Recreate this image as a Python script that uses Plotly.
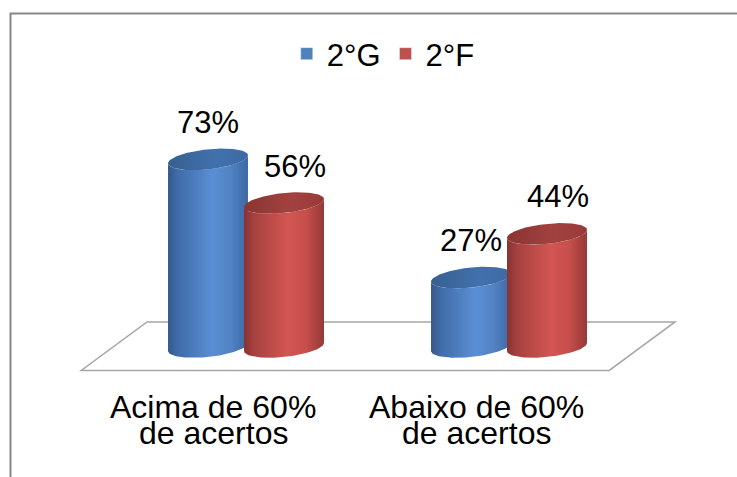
import numpy as np
import plotly.graph_objects as go

# ---- data ----
categories = ["Acima de 60%\nde acertos", "Abaixo de 60%\nde acertos"]
series_names = ["2°G", "2°F"]
values_2G = [73, 27]
values_2F = [56, 44]
series_values = [values_2G, values_2F]

# ---- styling ----
FONT = "Liberation Sans, Arial, sans-serif"
base_colors = ["#4f81bd", "#c0504d"]
body_scales = [
    [[0, "#35598a"], [0.12, "#406ca8"], [0.55, "#5a8ed4"], [0.78, "#5283c4"], [1, "#3d68a2"]],
    [[0, "#873230"], [0.12, "#a5413f"], [0.55, "#d35653"], [0.78, "#c64e4b"], [1, "#953937"]],
]
cap_scales = [
    [[0, "#37608f"], [0.6, "#4171ad"], [1, "#3e6aa3"]],
    [[0, "#8a3533"], [0.6, "#a24240"], [1, "#963a38"]],
]
label_xshift = [0, 11]

# geometry of the cylinders (axis units)
half_w = 0.152          # half width of a cylinder along x
offsets = [-0.1445, 0.1445]
ell_b = 3.9             # vertical half axis of the elliptical ends (y units)
ell_s = 1.56            # tilt of the ellipse (y units)
depth_dx = -0.125       # x shift from mid-depth to the floor's front edge

x_range = [-0.9354, 1.8669]
y_range = [-50.6, 135.0]


def ellipse(cx, cy, t):
    return cx + half_w * np.cos(t), cy + ell_s * np.cos(t) - ell_b * np.sin(t)


fig = go.Figure()

for si, (name, vals) in enumerate(zip(series_names, series_values)):
    for gi, v in enumerate(vals):
        cx = gi + offsets[si]
        # body: left side up, front arc of the top, right side down, front arc of the base
        t_top = np.linspace(np.pi, 0, 60)
        t_bot = np.linspace(0, np.pi, 60)
        tx, ty = ellipse(cx, v, t_top)
        bx, by = ellipse(cx, 0, t_bot)
        xs = np.concatenate([tx, bx, tx[:1]])
        ys = np.concatenate([ty, by, ty[:1]])
        fig.add_trace(go.Scatter(
            x=xs, y=ys, mode="lines", line=dict(width=0),
            fill="toself", fillcolor=base_colors[si],
            fillgradient=dict(type="horizontal", colorscale=body_scales[si]),
            hoverinfo="skip", showlegend=False,
        ))
        # top cap
        t_cap = np.linspace(0, 2 * np.pi, 120)
        cxs, cys = ellipse(cx, v, t_cap)
        fig.add_trace(go.Scatter(
            x=cxs, y=cys, mode="lines", line=dict(width=0),
            fill="toself", fillcolor=base_colors[si],
            fillgradient=dict(type="horizontal", colorscale=cap_scales[si]),
            hoverinfo="skip", showlegend=False,
        ))
        # value label
        fig.add_annotation(
            x=cx, y=v, text=f"{v}%", showarrow=False,
            yshift=37, xshift=label_xshift[si], yanchor="middle",
            font=dict(family=FONT, size=31, color="#000000"),
        )

# legend entries
for si, name in enumerate(series_names):
    fig.add_trace(go.Bar(x=[None], y=[None], name=name,
                         marker=dict(color=base_colors[si]), showlegend=True))

# category labels under the floor
for gi, cat in enumerate(categories):
    for li, line in enumerate(cat.split("\n")):
        fig.add_annotation(
            x=gi + depth_dx, y=-23.5 - 9.8 * li, text=line, showarrow=False,
            yanchor="middle", font=dict(family=FONT, size=32, color="#000000"),
        )

# floor of the 3-D plot
floor_back, floor_front = 9.73, -9.14
floor_l, floor_r = -0.3764, 1.6312
fdx = 2 * depth_dx
floor_path = (f"M {floor_l},{floor_back} L {floor_r},{floor_back} "
              f"L {floor_r + fdx},{floor_front} L {floor_l + fdx},{floor_front} Z")
fig.add_shape(type="path", path=floor_path, xref="x", yref="y",
              line=dict(color="#a6a6a6", width=1.5), fillcolor="rgba(0,0,0,0)",
              layer="below")

# chart-area border
fig.add_shape(type="rect", xref="paper", yref="paper",
              x0=10.5 / 737, x1=1.02, y0=-0.02, y1=1 - 13.5 / 477,
              line=dict(color="#878787", width=2), layer="below")

fig.update_layout(
    width=737, height=477,
    margin=dict(l=0, r=0, t=0, b=0),
    paper_bgcolor="#ffffff", plot_bgcolor="#ffffff",
    xaxis=dict(range=x_range, visible=False, fixedrange=True),
    yaxis=dict(range=y_range, visible=False, fixedrange=True),
    showlegend=True,
    legend=dict(orientation="h", x=0.52, xanchor="center",
                y=1 - 54 / 477, yanchor="middle",
                font=dict(family=FONT, size=31, color="#000000"),
                bgcolor="rgba(0,0,0,0)", itemclick=False),
    barmode="overlay",
)

fig.write_html("out.html")
